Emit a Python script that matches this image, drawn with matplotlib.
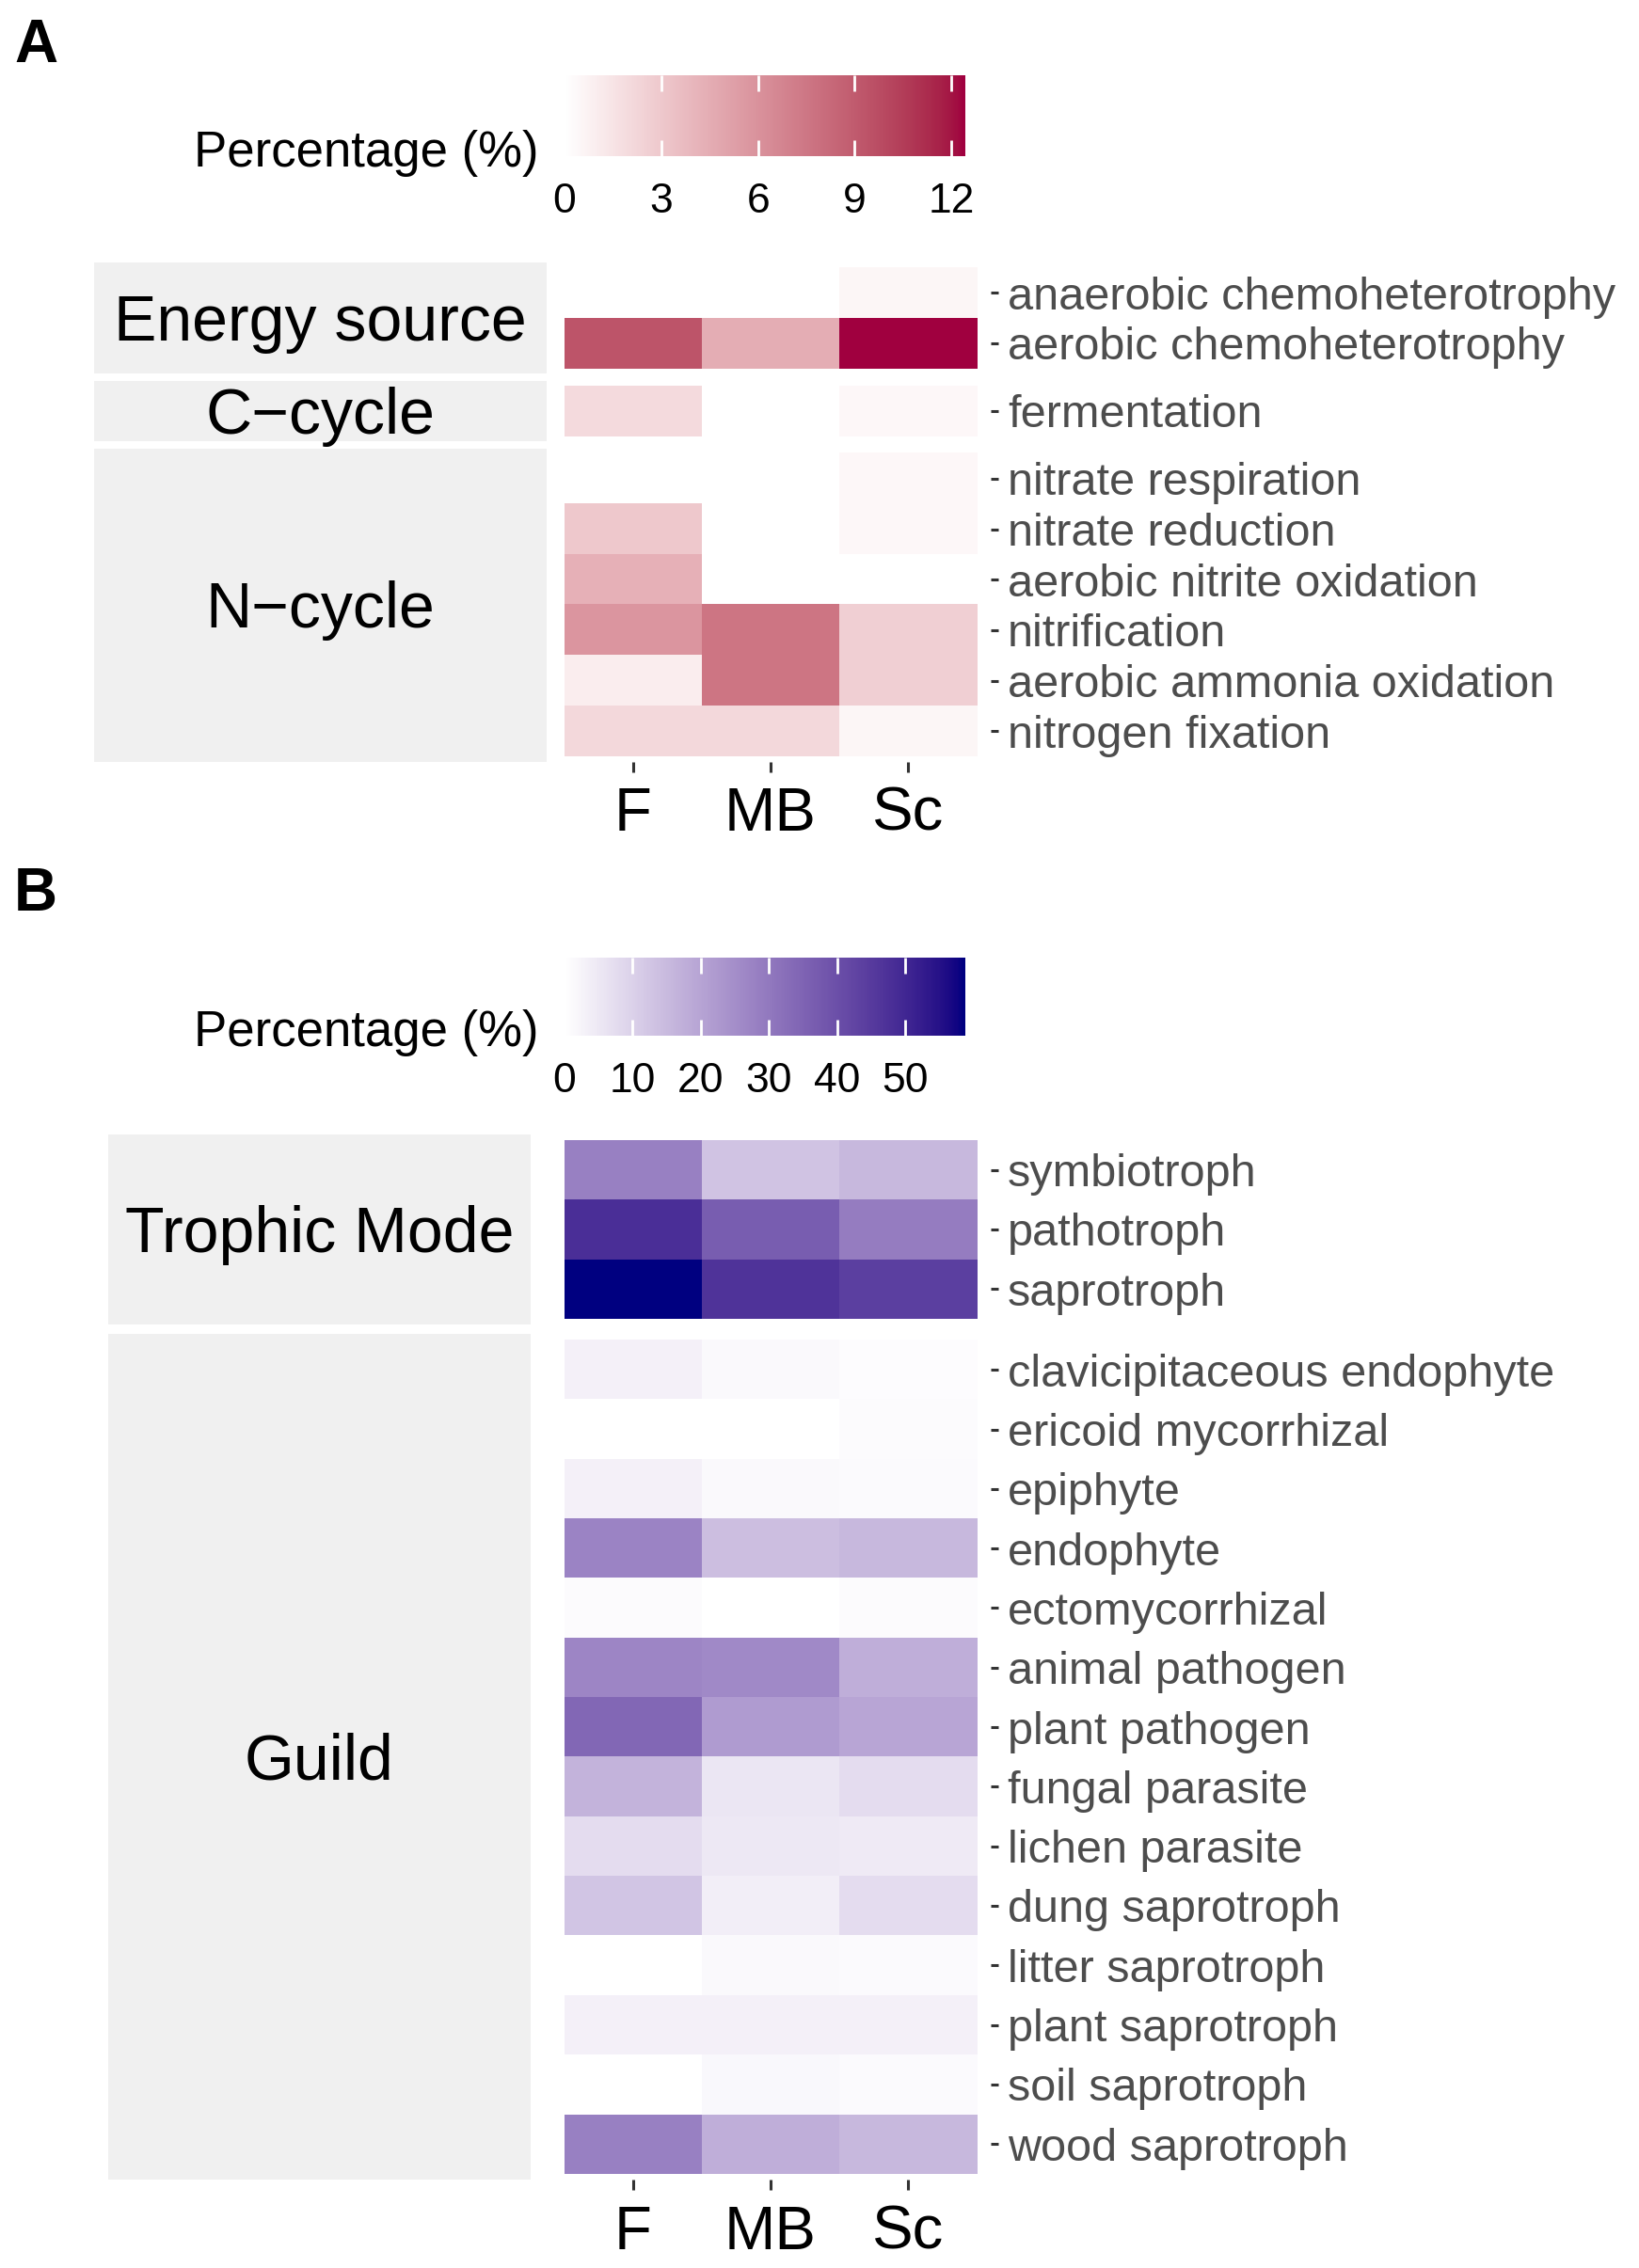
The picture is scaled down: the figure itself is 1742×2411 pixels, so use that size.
import numpy as np
import matplotlib
matplotlib.use("Agg")
import matplotlib.pyplot as plt
from matplotlib.colors import ListedColormap, to_rgb
from matplotlib.patches import Rectangle

plt.rcParams['font.family'] = ['Liberation Sans', 'DejaVu Sans']

W, H = 1742, 2411

sites = ["F", "MB", "Sc"]

# panel A: bacterial functions (percentage)
energy_rows = ["anaerobic chemoheterotrophy", "aerobic chemoheterotrophy"]
energy_vals = [[0.0, 0.0, 0.5],
               [9.3, 4.5, 12.4]]
ccycle_rows = ["fermentation"]
ccycle_vals = [[2.0, 0.0, 0.4]]
ncycle_rows = ["nitrate respiration", "nitrate reduction", "aerobic nitrite oxidation",
               "nitrification", "aerobic ammonia oxidation", "nitrogen fixation"]
ncycle_vals = [[0.0, 0.0, 0.4],
               [3.0, 0.0, 0.4],
               [4.3, 0.0, 0.0],
               [5.8, 7.6, 2.6],
               [1.0, 7.6, 2.6],
               [2.1, 2.1, 0.5]]

# panel B: fungal guilds (percentage)
trophic_rows = ["symbiotroph", "pathotroph", "saprotroph"]
trophic_vals = [[28.0, 13.0, 15.5],
                [48.0, 36.5, 29.0],
                [58.7, 47.0, 44.0]]
guild_rows = ["clavicipitaceous endophyte", "ericoid mycorrhizal", "epiphyte", "endophyte",
              "ectomycorrhizal", "animal pathogen", "plant pathogen", "fungal parasite",
              "lichen parasite", "dung saprotroph", "litter saprotroph", "plant saprotroph",
              "soil saprotroph", "wood saprotroph"]
guild_vals = [[3.0, 1.2, 0.6],
              [0.0, 0.0, 0.8],
              [3.0, 1.2, 1.0],
              [27.5, 14.0, 15.5],
              [0.8, 0.0, 0.8],
              [27.0, 26.0, 17.5],
              [34.0, 22.0, 19.5],
              [16.5, 5.5, 7.5],
              [7.5, 5.0, 4.5],
              [12.5, 3.5, 7.5],
              [0.0, 1.2, 1.0],
              [3.0, 3.2, 3.0],
              [0.0, 1.6, 1.0],
              [28.0, 17.5, 15.5]]


def srgb_to_lab(c):
    c = np.asarray(c, float)
    lin = np.where(c <= 0.04045, c / 12.92, ((c + 0.055) / 1.055) ** 2.4)
    M = np.array([[0.4124, 0.3576, 0.1805], [0.2126, 0.7152, 0.0722], [0.0193, 0.1192, 0.9505]])
    t = (M @ lin) / np.array([0.95047, 1.0, 1.08883])
    d = 6 / 29
    f = np.where(t > d ** 3, np.cbrt(t), t / (3 * d * d) + 4 / 29)
    return np.array([116 * f[1] - 16, 500 * (f[0] - f[1]), 200 * (f[1] - f[2])])


def lab_to_srgb(lab):
    L, a, b = lab
    fy = (L + 16) / 116
    fx = fy + a / 500
    fz = fy - b / 200
    d = 6 / 29
    f = np.array([fx, fy, fz])
    t = np.where(f > d, f ** 3, 3 * d * d * (f - 4 / 29))
    xyz = t * np.array([0.95047, 1.0, 1.08883])
    Minv = np.linalg.inv(np.array([[0.4124, 0.3576, 0.1805], [0.2126, 0.7152, 0.0722], [0.0193, 0.1192, 0.9505]]))
    lin = np.clip(Minv @ xyz, 0, 1)
    c = np.where(lin <= 0.0031308, 12.92 * lin, 1.055 * lin ** (1 / 2.4) - 0.055)
    return np.clip(c, 0, 1)


def lab_cmap(low, high, n=256):
    # ggplot-style gradient, interpolated in CIELAB
    l0 = srgb_to_lab(to_rgb(low))
    l1 = srgb_to_lab(to_rgb(high))
    cols = [lab_to_srgb(l0 + (l1 - l0) * s) for s in np.linspace(0, 1, n)]
    cols[0] = to_rgb(low)
    cols[-1] = to_rgb(high)
    return ListedColormap(cols)


cmap_a = lab_cmap("white", "#A0003F")
cmap_b = lab_cmap("white", "#000080")

fig = plt.figure(figsize=(W / 100, H / 100), dpi=100)


def rect(x0, y0, x1, y1):
    return [x0 / W, 1 - y1 / H, (x1 - x0) / W, (y1 - y0) / H]


def facet(rows, vals, top, rowh, x0, x1, cmap, vmax, strip_txt, sx0, sx1, bottom=False):
    n = len(rows)
    y1 = top + (n + 0.2) * rowh
    ax = fig.add_axes(rect(x0, top, x1, y1))
    ax.imshow(np.array(vals), cmap=cmap, vmin=0, vmax=vmax, aspect='auto',
              interpolation='nearest', extent=(-0.5, 2.5, n - 0.5, -0.5))
    ax.set_xlim(-0.6, 2.6)
    ax.set_ylim(n - 0.4, -0.6)
    for s in ax.spines.values():
        s.set_visible(False)
    ax.yaxis.tick_right()
    ax.set_yticks(range(n))
    ax.set_yticklabels(rows)
    ax.tick_params(axis='y', length=6, width=2.2, color='#333333', labelsize=35,
                   labelcolor='#4D4D4D', pad=7)
    if bottom:
        ax.set_xticks(range(3))
        ax.set_xticklabels(sites)
        ax.tick_params(axis='x', length=8, width=2.2, color='#333333', labelsize=47,
                       labelcolor='black', pad=11)
    else:
        ax.set_xticks([])
    fig.patches.append(Rectangle((sx0 / W, 1 - y1 / H), (sx1 - sx0) / W, (y1 - top) / H,
                                 transform=fig.transFigure, facecolor='#F0F0F0',
                                 edgecolor='none', zorder=0))
    fig.text((sx0 + sx1) / 2 / W, 1 - ((top + y1) / 2 + 6) / H, strip_txt, ha='center',
             va='center', fontsize=49, color='black')
    return y1


def colorbar(cmap, vmax, ticks, x0, y0, x1, y1, title_y, label_y):
    ax = fig.add_axes(rect(x0, y0, x1, y1))
    grad = np.linspace(0, vmax, 300)[None, :]
    ax.imshow(grad, cmap=cmap, vmin=0, vmax=vmax, aspect='auto', extent=(0, vmax, 0, 1))
    ax.set_xlim(0, vmax)
    ax.set_ylim(0, 1)
    ax.vlines(ticks, 0, 0.2, color='white', lw=2)
    ax.vlines(ticks, 0.8, 1, color='white', lw=2)
    ax.axis('off')
    for t in ticks:
        fig.text((x0 + (x1 - x0) * t / vmax) / W, 1 - label_y / H, str(t),
                 ha='center', va='center', fontsize=32, color='black')
    fig.text(572 / W, 1 - title_y / H, "Percentage (%)", ha='right', va='center',
             fontsize=38, color='black')


# panel A
fig.text(15 / W, 1 - 49 / H, "A", fontsize=46, fontweight='bold', va='center', ha='left')
colorbar(cmap_a, 12.4, [0, 3, 6, 9, 12], 600, 80, 1025, 166, 163, 215)
rh = 53.7
y = facet(energy_rows, energy_vals, 279, rh, 585, 1053, cmap_a, 12.4, "Energy source", 100, 581)
y = facet(ccycle_rows, ccycle_vals, y + 7.5, rh, 585, 1053, cmap_a, 12.4, "C\u2212cycle", 100, 581)
y = facet(ncycle_rows, ncycle_vals, y + 7.5, rh, 585, 1053, cmap_a, 12.4, "N\u2212cycle", 100, 581,
          bottom=True)

# panel B
fig.text(15 / W, 1 - 951 / H, "B", fontsize=46, fontweight='bold', va='center', ha='left')
colorbar(cmap_b, 58.7, [0, 10, 20, 30, 40, 50], 600, 1018, 1025, 1101, 1098, 1149)
rh = 63.3
y = facet(trophic_rows, trophic_vals, 1205.7, rh, 585, 1053, cmap_b, 58.7, "Trophic Mode", 115, 564)
y = facet(guild_rows, guild_vals, y + 10, rh, 585, 1053, cmap_b, 58.7, "Guild", 115, 564,
          bottom=True)

fig.savefig("out.png", dpi=100)
